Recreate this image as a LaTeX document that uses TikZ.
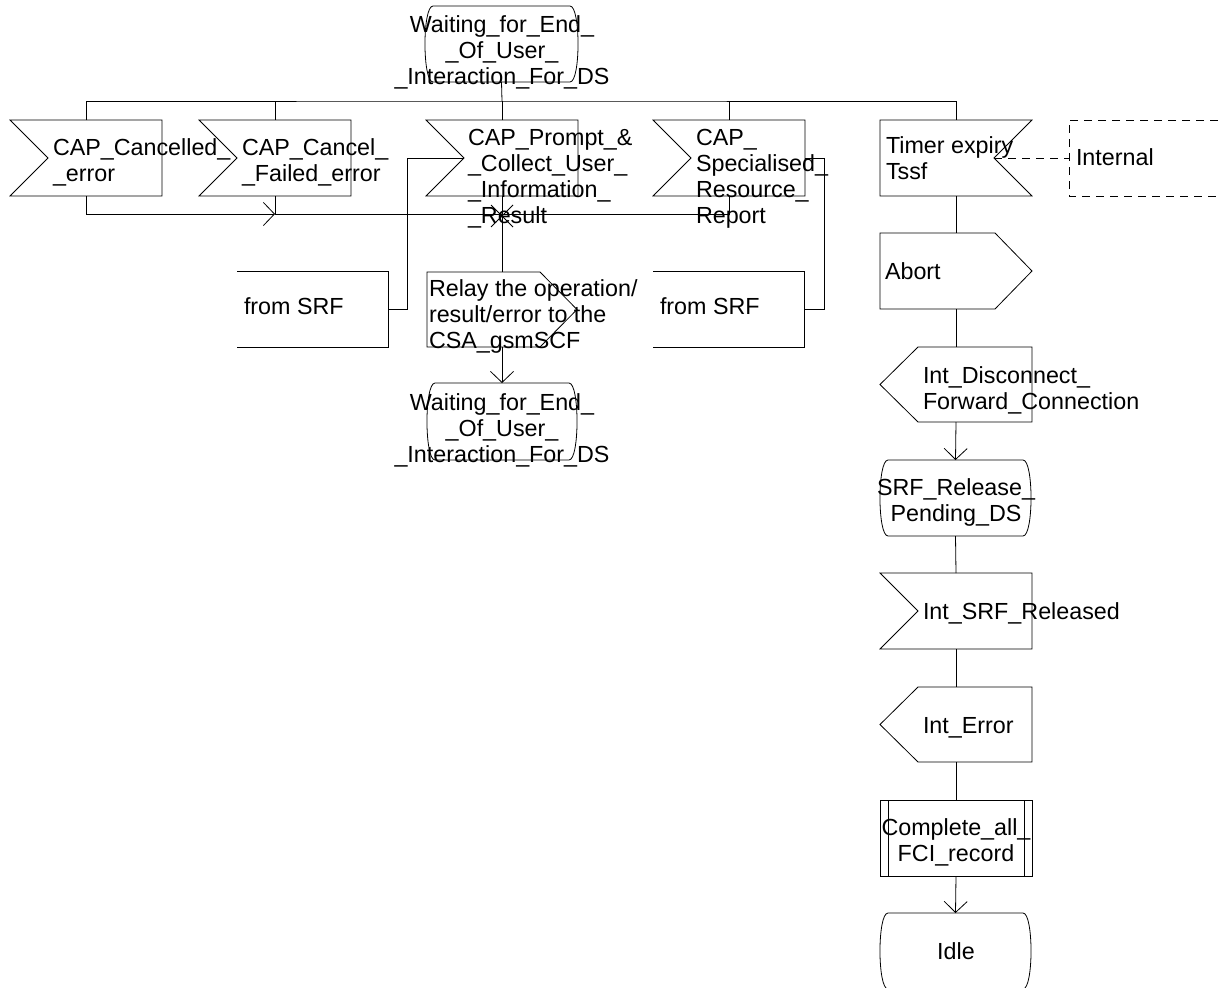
\documentclass[tikz,border=0pt]{standalone}
\usepackage{fontspec}
\setmainfont{Liberation Sans}
\usetikzlibrary{arrows.meta}
\newcommand\txtL[1]{\begin{tabular}[t]{@{}l@{}}#1\end{tabular}}
\newcommand\txtC[1]{\begin{tabular}[t]{@{}c@{}}#1\end{tabular}}
\tikzset{
  ln/.style={draw=black, line width=0.8pt},
  arr/.style={ln, -{Straight Barb[length=11pt,width=23pt]}},
  dash line/.style={ln, dash pattern=on 8pt off 6pt},
  shp/.style={inner sep=0pt, outer sep=0pt, minimum width=152pt, minimum height=76pt},
  txt/.style={inner sep=0pt, outer sep=0pt},
}
% outlines of the SDL symbols, drawn on the anchors of a named node
\newcommand\shIn[1]{\draw[ln] (#1.north west) -- (#1.north east) -- (#1.south east) -- (#1.south west) -- ([xshift=38pt]#1.west) -- cycle;}
\newcommand\shInR[1]{\draw[ln] (#1.north west) -- (#1.north east) -- ([xshift=-38pt]#1.east) -- (#1.south east) -- (#1.south west) -- cycle;}
\newcommand\shOut[1]{\draw[ln] (#1.north west) -- ([xshift=-37pt]#1.north east) -- (#1.east) -- ([xshift=-37pt]#1.south east) -- (#1.south west) -- cycle;}
\newcommand\shOutL[1]{\draw[ln] ([xshift=38pt]#1.north west) -- (#1.north east) -- (#1.south east) -- ([xshift=38pt]#1.south west) -- (#1.west) -- cycle;}
\newcommand\shState[1]{\draw[ln] ([xshift=8pt]#1.north west) -- ([xshift=-8pt]#1.north east) .. controls ([xshift=2.7pt]#1.north east) and ([xshift=2.7pt]#1.south east) .. ([xshift=-8pt]#1.south east) -- ([xshift=8pt]#1.south west) .. controls ([xshift=-2.7pt]#1.south west) and ([xshift=-2.7pt]#1.north west) .. ([xshift=8pt]#1.north west) -- cycle;}
\newcommand\shProc[1]{\draw[ln] (#1.north west) rectangle (#1.south east); \draw[ln] ([xshift=8pt]#1.north west) -- ([xshift=8pt]#1.south west) ([xshift=-8pt]#1.north east) -- ([xshift=-8pt]#1.south east);}
\newcommand\shFrom[1]{\draw[ln] (#1.north west) -- (#1.north east) -- (#1.south east) -- (#1.south west);}
\begin{document}
\begin{tikzpicture}[x=1pt, y=-1pt, font=\fontsize{23.3}{26}\selectfont]
\clip (0,0) rectangle (1219,988);
\fill[white] (0,0) rectangle (1219,988);

% ---------- shapes ----------
\node[shp, minimum width=153pt] (wait1) at (501.5,44) {};
\node[shp] (canc)   at (86,158) {};
\node[shp] (cfail)  at (275,158) {};
\node[shp] (prompt) at (502,158) {};
\node[shp] (spec)   at (729,158) {};
\node[shp] (timer)  at (956,158) {};
\node[shp, minimum width=163pt] (intl) at (1150.5,158) {};
\node[shp, minimum width=151pt] (fromL) at (312.5,309) {};
\node[shp, minimum width=150pt, minimum height=75pt] (relay) at (502,309.5) {};
\node[shp, minimum width=151pt] (fromR) at (728.5,309) {};
\node[shp, minimum width=150pt, minimum height=77pt] (wait2) at (502,421.5) {};
\node[shp] (abort)  at (956,271) {};
\node[shp, minimum height=75pt] (disc) at (956,384.5) {};
\node[shp, minimum width=151pt] (srf) at (955.5,498) {};
\node[shp] (rel)    at (956,611) {};
\node[shp, minimum height=75pt] (interr) at (956,724.5) {};
\node[shp] (proc)   at (956,838) {};
\node[shp, minimum width=151pt] (idle) at (955.5,951) {};

\shState{wait1}
\shIn{canc}
\shIn{cfail}
\shIn{prompt}
\shIn{spec}
\shInR{timer}
\draw[dash line] (intl.north east) -- (intl.north west) -- (intl.south west) -- (intl.south east);
\shFrom{fromL}
\shOut{relay}
\shFrom{fromR}
\shState{wait2}
\shOut{abort}
\shOutL{disc}
\shState{srf}
\shIn{rel}
\shOutL{interr}
\shProc{proc}
\shState{idle}

% ---------- connectors ----------
\coordinate (bus) at (502,101);
\coordinate (j1) at (275,214);
\coordinate (j3) at (729,214);
\coordinate (jx) at (502,216);
\coordinate (lk) at (407,309);
\coordinate (rk) at (824,309);
\coordinate (ptip) at ([xshift=38pt]prompt.west);
\coordinate (ttip) at ([xshift=-38pt]timer.east);

\draw[ln] (wait1.south) -- (bus);
\draw[ln] (canc.north) |- (bus) -| (timer.north);
\draw[ln] (cfail.north) -- (cfail.north |- bus);
\draw[ln] (prompt.north) -- (bus);
\draw[ln] (spec.north) -- (spec.north |- bus);

\draw[arr] (canc.south) |- (j1);
\draw[ln] (cfail.south) -- (j1);
\draw[ln] (j1) -- (j3) -- (spec.south);
\draw[ln] (prompt.south) -- (relay.north);
\draw[ln] ([shift={(-11pt,11pt)}]jx) -- ([shift={(11pt,-11pt)}]jx) ([shift={(11pt,11pt)}]jx) -- ([shift={(-11pt,-11pt)}]jx);
\draw[arr] (relay.south) -- (wait2.north);
\draw[ln] (fromL.east) -- (lk) |- (ptip);
\draw[ln] (fromR.east) -- (rk) |- (spec.east);
\draw[dash line] (ttip) -- (intl.west);

\draw[ln] (timer.south) -- (abort.north);
\draw[ln] (abort.south) -- (disc.north);
\draw[arr] (disc.south) -- (srf.north);
\draw[ln] (srf.south) -- (rel.north);
\draw[ln] (rel.south) -- (interr.north);
\draw[ln] (interr.south) -- (proc.north);
\draw[arr] (proc.south) -- (idle.north);

% ---------- texts ----------
\node[txt, anchor=base] (wait1T) at (502,32) {\txtC{Waiting\_for\_End\_\\\_Of\_User\_\\\_Interaction\_For\_DS}};
\node[txt, anchor=base west] (cancT) at (53,155) {\txtL{CAP\_Cancelled\_\\\_error}};
\node[txt, anchor=base west] (cfailT) at (242,155) {\txtL{CAP\_Cancel\_\\\_Failed\_error}};
\node[txt, anchor=base west] (promptT) at (468,145) {\txtL{CAP\_Prompt\_\&\\\_Collect\_User\_\\\_Information\_\\\_Result}};
\node[txt, anchor=base west] (specT) at (696,145) {\txtL{CAP\_\\Specialised\_\\Resource\_\\Report}};
\node[txt, anchor=base west] (timerT) at (886,153) {\txtL{Timer expiry\\Tssf}};
\node[txt, anchor=base west] (intlT) at (1076,165) {Internal};
\node[txt, anchor=base west] (fromLT) at (244,314) {from SRF};
\node[txt, anchor=base west] (relayT) at (429,296) {\txtL{Relay the operation/\\result/error to the\\CSA\_gsmSCF}};
\node[txt, anchor=base west] (fromRT) at (660,314) {from SRF};
\node[txt, anchor=base] (wait2T) at (502,410) {\txtC{Waiting\_for\_End\_\\\_Of\_User\_\\\_Interaction\_For\_DS}};
\node[txt, anchor=base west] (abortT) at (885,279) {Abort};
\node[txt, anchor=base west] (discT) at (923,383) {\txtL{Int\_Disconnect\_\\Forward\_Connection}};
\node[txt, anchor=base] (srfT) at (956,495) {\txtC{SRF\_Release\_\\Pending\_DS}};
\node[txt, anchor=base west] (relT) at (923,619) {Int\_SRF\_Released};
\node[txt, anchor=base west] (interrT) at (923,733) {Int\_Error};
\node[txt, anchor=base] (procT) at (956,835) {\txtC{Complete\_all\_\\FCI\_record}};
\node[txt, anchor=base] (idleT) at (956,959) {Idle};
\end{tikzpicture}
\end{document}
